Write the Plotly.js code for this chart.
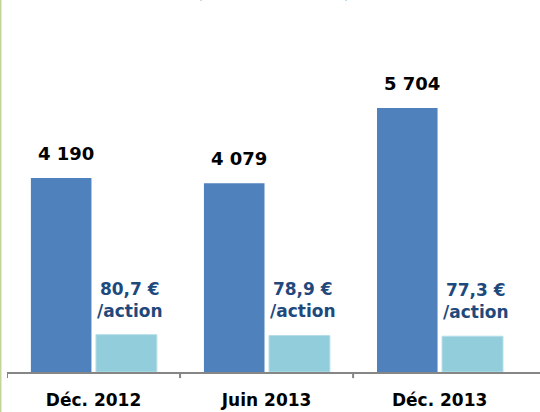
<!DOCTYPE html>
<html>
<head>
<meta charset="utf-8">
<script src="https://cdn.plot.ly/plotly-3.0.1.min.js"></script>
<style>html,body{margin:0;padding:0;background:#fff;}#chart{width:540px;height:412px;}</style>
</head>
<body>
<div id="chart"></div>
<script>
// Data
const categories = ["Déc. 2012", "Juin 2013", "Déc. 2013"];
const capitaux = [4190, 4079, 5704];          // millions d'euros
const parAction = [80.7, 78.9, 77.3];         // € par action
const subtitle = "(en millions d'euros)";

function fmtThousands(v) {
  return String(v).replace(/\B(?=(\d{3})+(?!\d))/g, " ");
}
function fmtDecimal(v) {
  return v.toFixed(1).replace(".", ",");
}

const yMax = 7775;
const font = "DejaVu Sans, Verdana, sans-serif";

const traces = [
  {
    type: "bar", x: categories, y: capitaux, yaxis: "y",
    width: 0.35, offset: -0.362,
    marker: {color: "#4F81BD"}, hoverinfo: "skip"
  },
  {
    type: "bar", x: categories, y: parAction, yaxis: "y2",
    width: 0.352, offset: 0.014,
    marker: {color: "#92CDDC", line: {color: "#B7DEE8", width: 1}}, hoverinfo: "skip"
  }
];

const annotations = [];
categories.forEach((c, i) => {
  annotations.push({
    x: c, y: capitaux[i], xref: "x", yref: "y",
    text: "<b>" + fmtThousands(capitaux[i]) + "</b>",
    showarrow: false, xanchor: "center", yanchor: "bottom",
    xshift: -28, yshift: 12,
    font: {family: font, size: 18, color: "#000000"}
  });
  annotations.push({
    x: c, y: parAction[i], xref: "x", yref: "y2",
    text: "<b>" + fmtDecimal(parAction[i]) + " €<br>/action</b>",
    showarrow: false, xanchor: "center", yanchor: "bottom",
    xshift: 36, yshift: 12,
    font: {family: font, size: 17, color: "#1F497D"}
  });
});
annotations.push({
  x: 0.5, y: 1.022, xref: "paper", yref: "paper",
  text: subtitle, showarrow: false, xanchor: "center", yanchor: "bottom",
  font: {family: font, size: 15, color: "#4F81BD"}
});

const shapes = [];
// category boundary ticks
[-0.5, 0.5, 1.5].forEach(b => {
  shapes.push({type: "line", xref: "x", yref: "paper", x0: b, x1: b, y0: 0, y1: -0.017,
    line: {color: "#868686", width: 2}});
});
// green left border line
shapes.push({type: "line", xref: "paper", yref: "paper", x0: -0.0122, x1: -0.0122, y0: -0.12, y1: 1.04,
  line: {color: "#C3D69B", width: 2}});

const layout = {
  width: 540, height: 412,
  margin: {l: 7, r: 0, t: 12, b: 40, pad: 0},
  paper_bgcolor: "#ffffff", plot_bgcolor: "#ffffff",
  showlegend: false,
  barmode: "overlay",
  font: {family: font},
  xaxis: {
    type: "category", range: [-0.5, 2.58],
    showline: true, linecolor: "#868686", linewidth: 2,
    ticks: "", showgrid: false, zeroline: false,
    tickfont: {family: font, size: 17, color: "#000000"},
    ticklabelstandoff: 12
  },
  yaxis: {range: [0, yMax], visible: false, showgrid: false, zeroline: false},
  yaxis2: {range: [0, yMax / 10], overlaying: "y", visible: false, showgrid: false, zeroline: false},
  annotations: annotations,
  shapes: shapes
};

// bold tick labels
layout.xaxis.tickvals = categories;
layout.xaxis.ticktext = categories.map(c => "<b>" + c + "</b>");

Plotly.newPlot("chart", traces, layout, {staticPlot: true, displayModeBar: false});
</script>
</body>
</html>
